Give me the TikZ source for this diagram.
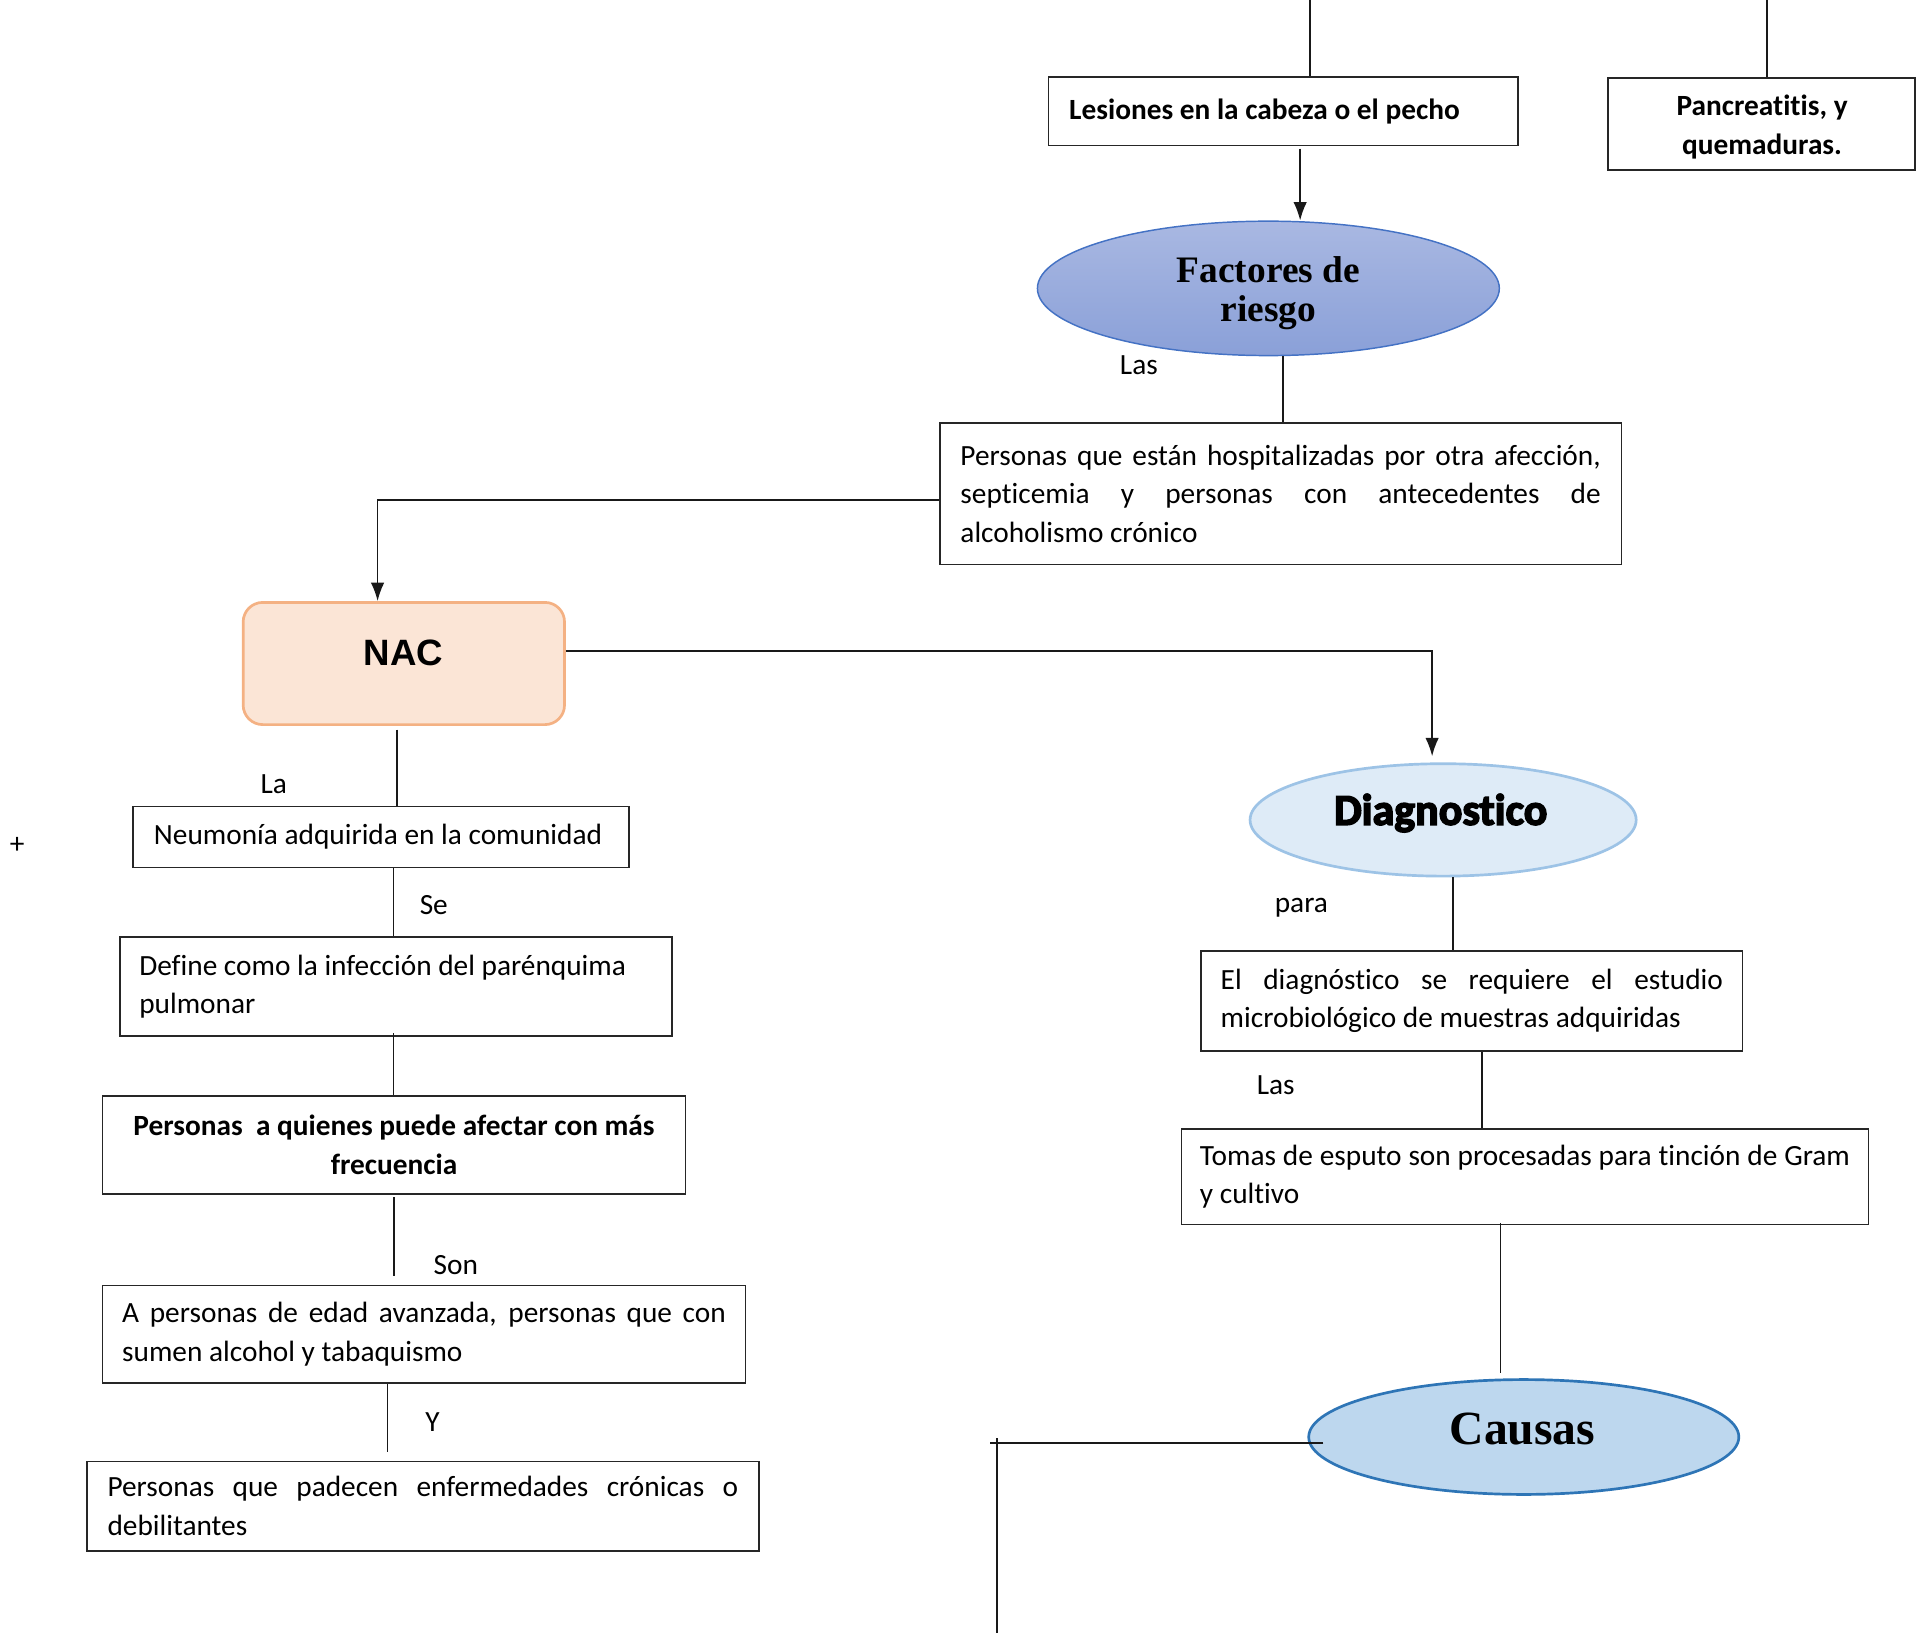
\documentclass[tikz,border=0pt]{standalone}
\usepackage{fontspec}
\setmainfont{Carlito}[Ligatures=NoCommon]
\newfontfamily\serifb{Liberation Serif}
\newfontfamily\sansb{Liberation Sans}
\newfontfamily\heavyf{Carlito Bold}[FakeBold=3.5,Ligatures=NoCommon]
\usetikzlibrary{arrows.meta,shapes.geometric,calc}
\hyphenpenalty=10000 \exhyphenpenalty=10000
\definecolor{fctop}{HTML}{A9B8E2}
\definecolor{fcbot}{HTML}{8AA0D8}
\definecolor{fcborder}{HTML}{4472C4}
\definecolor{nacfill}{HTML}{FBE5D6}
\definecolor{nacborder}{HTML}{F4B183}
\definecolor{dgfill}{HTML}{DEEBF7}
\definecolor{dgborder}{HTML}{9DC3E6}
\definecolor{csfill}{HTML}{BDD7EE}
\definecolor{csborder}{HTML}{2E75B6}
\tikzset{
  box/.style={draw=black!85, line width=0.7pt, rectangle, inner sep=0pt,
    font=\fontsize{12}{15.75}\selectfont},
  boldbox/.style={box, font=\fontsize{12}{15.75}\selectfont\bfseries},
  lbl/.style={font=\fontsize{12}{14}\selectfont, inner sep=0pt},
  conn/.style={draw=black!90, line width=0.65pt},
  arr/.style={conn, -{Latex[length=7.5pt,width=5.5pt]}},
}
\begin{document}
\begin{tikzpicture}[x=0.5pt,y=-0.5pt]
\useasboundingbox (0,0) rectangle (1568,1336);

% top boxes
\node[boldbox, minimum width=192pt, minimum height=28pt, text width=175pt, align=flush left] (lesiones) at (1050,91) {Lesiones en la cabeza o el pecho};
\node[box, minimum width=125.5pt, minimum height=37.5pt] (pancrea) at (1441.5,101.5) {};
\node[font=\fontsize{12}{15.75}\selectfont\bfseries, inner sep=0pt, align=flush center] (pancreatext) at (1442,104) {Pancreatitis, y\\quemaduras.};

% Factores de riesgo
\node[ellipse, draw=fcborder, line width=0.6pt, top color=fctop, bottom color=fcbot,
  minimum width=189pt, minimum height=55pt, inner sep=0pt] (factores) at (1038,236) {};
\node[font=\serifb\bfseries\fontsize{15.3}{16}\selectfont, inner sep=0pt, align=center] (factorestext) at (1038,240) {Factores de\\riesgo};

\node[box, minimum width=279pt, minimum height=58pt, text width=262pt, align=justify] (hosp) at (1048,404) {Personas que están hospitalizadas por otra afección, septicemia y personas con antecedentes de alcoholismo crónico};

% NAC
\node[draw=nacborder, fill=nacfill, line width=1.1pt, rounded corners=8pt,
  minimum width=131.5pt, minimum height=50pt, inner sep=0pt] (nac) at (330.5,543) {};
\node[font=\sansb\bfseries\fontsize{15}{16}\selectfont, inner sep=0pt, anchor=base] (nactext) at (330,545) {NAC};

% Diagnostico
\node[ellipse, draw=dgborder, fill=dgfill, line width=1.1pt,
  minimum width=158pt, minimum height=46pt, inner sep=0pt] (diag) at (1181,671) {};
\node[font=\heavyf\fontsize{18}{20}\selectfont, inner sep=0pt, anchor=base] (diagtext) at (1179,675) {Diagnostico};

\node[box, minimum width=221.5pt, minimum height=41pt, text width=205.5pt, align=justify] (diagbox) at (1204.5,819) {El diagnóstico se requiere el estudio microbiológico de muestras adquiridas};
\node[box, minimum width=281pt, minimum height=39pt, text width=266pt, align=justify] (tomas) at (1248,963) {Tomas de esputo son procesadas para tinción de Gram y cultivo};

% Causas
\node[ellipse, draw=csborder, fill=csfill, line width=1.1pt,
  minimum width=176pt, minimum height=47pt, inner sep=0pt] (causas) at (1247,1176) {};
\node[font=\serifb\bfseries\fontsize{19.5}{21}\selectfont, inner sep=0pt, anchor=base] (causastext) at (1246,1182) {Causas};

% left column
\node[box, minimum width=203pt, minimum height=25pt, text width=186pt, align=flush left] (neum) at (312,685) {Neumonía adquirida en la comunidad};
\node[box, minimum width=226pt, minimum height=40.5pt, text width=210pt, align=flush left] (define) at (324,807.5) {Define como la infección del parénquima pulmonar};
\node[boldbox, minimum width=238.5pt, minimum height=40pt, text width=225pt, align=flush center] (quienes) at (322.5,937) {Personas\ \ a quienes puede afectar con más\\frecuencia};
\node[box, minimum width=263pt, minimum height=40pt, text width=247pt, align=justify] (apers) at (347,1092) {A personas de edad avanzada, personas que con sumen alcohol y tabaquismo};
\node[box, minimum width=275pt, minimum height=36.5pt, text width=258pt, align=justify] (padecen) at (346,1232.5) {Personas que padecen enfermedades crónicas o debilitantes};

% labels
\node[lbl] (las1) at (932,299) {Las};
\node[lbl] (la) at (224,642) {La};
\node[lbl] (se) at (355,741) {Se};
\node[lbl] (son) at (373,1035) {Son};
\node[lbl] (ylbl) at (354,1164) {Y};
\node[lbl] (para) at (1065,743) {para};
\node[lbl] (las2) at (1044,888) {Las};
\node[lbl] (plus) at (14,692) {+};

% connectors
\coordinate (t1) at (1072,0);
\coordinate (t2) at (1446,0);
\draw[conn] (t1) -- (t1 |- lesiones.north);
\draw[conn] (t2) -- (t2 |- pancrea.north);

\coordinate (a1) at ([xshift=7pt,yshift=-1pt]lesiones.south);
\draw[arr] (a1) -- (a1 |- factores.north);

\coordinate (a2) at ([xshift=1pt]hosp.north);
\draw[conn] (a2) -- (a2 |- factores.south);

\coordinate (a3) at ([yshift=-2.5pt]hosp.west);
\coordinate (a3e) at ([xshift=-10.75pt]nac.north);
\draw[arr] (a3) -| (a3e);

\coordinate (a4) at ([yshift=5pt]nac.east);
\coordinate (a4e) at ([xshift=-4.5pt,yshift=2.5pt]diag.north);
\draw[arr] (a4) -| (a4e);

\coordinate (b1) at ([xshift=-2.75pt,yshift=-1.5pt]nac.south);
\draw[conn] (b1) -- (b1 |- neum.north);
\coordinate (b2) at ([xshift=5pt]neum.south);
\draw[conn] (b2) -- (b2 |- define.north);
\coordinate (b3) at ([xshift=-1pt,yshift=1.5pt]define.south);
\draw[conn] (b3) -- (b3 |- quienes.north);
\coordinate (b4) at ([yshift=-1pt]quienes.south);
\draw[conn, shorten >=3.5pt] (b4) -- (b4 |- apers.north);
\coordinate (b5) at ([xshift=-15pt]apers.south);
\draw[conn, shorten >=3.5pt] (b5) -- (b5 |- padecen.north);

\coordinate (c1) at ([xshift=4pt]diag.south);
\draw[conn] (c1) -- (c1 |- diagbox.north);
\coordinate (c2) at ([xshift=4.25pt]diagbox.south);
\draw[conn] (c2) -- (c2 |- tomas.north);
\coordinate (c3) at ([xshift=-10pt,yshift=1pt]tomas.south);
\draw[conn, shorten >=2pt] (c3) -- (c3 |- causas.north);

\coordinate (d1) at ([xshift=6.5pt,yshift=-2.5pt]causas.west);
\coordinate (dleft) at (810,1181);
\draw[conn] (d1) -- (dleft);
\coordinate (vtop) at (816,1177);
\coordinate (vbot) at (816,1336);
\draw[conn] (vtop) -- (vbot);
\end{tikzpicture}
\end{document}
